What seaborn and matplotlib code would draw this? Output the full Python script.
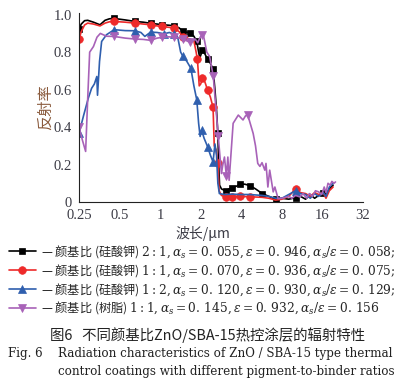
import numpy as np
import pandas as pd
import matplotlib
matplotlib.use("Agg")
import matplotlib.pyplot as plt
import seaborn as sns
from matplotlib.ticker import FixedLocator, FixedFormatter, NullFormatter

# ---------------- data ----------------
x_black = [0.25, 0.26, 0.275, 0.29, 0.32, 0.358, 0.39, 0.42, 0.454, 0.55, 0.65, 0.75, 0.85, 0.95, 1.04,
           1.15, 1.264, 1.38, 1.48, 1.58, 1.67, 1.78, 1.87, 1.93, 1.97, 2.06, 2.15, 2.25, 2.36, 2.47,
           2.55, 2.62, 2.68, 2.72, 2.76, 2.85, 3.06, 3.25, 3.44, 3.7, 3.94, 4.25, 4.62, 5.1, 5.72,
           6.4, 7.2, 8.0, 9.0, 10.1, 11.0, 12.0, 13.0, 14.0, 15.0, 16.2, 17.0, 18.0, 19.2]
y_black = [0.923, 0.95, 0.968, 0.97, 0.96, 0.946, 0.97, 0.978, 0.98, 0.972, 0.964, 0.96, 0.954, 0.95, 0.946,
           0.944, 0.941, 0.93, 0.911, 0.906, 0.902, 0.885, 0.857, 0.80, 0.77, 0.809, 0.79, 0.762, 0.74, 0.709,
           0.60, 0.49, 0.366, 0.20, 0.09, 0.07, 0.059, 0.07, 0.077, 0.085, 0.096, 0.095, 0.088, 0.07, 0.045,
           0.03, 0.014, 0.02, 0.015, 0.023, 0.03, 0.015, 0.04, 0.02, 0.035, 0.048, 0.04, 0.07, 0.09]
mk_black = [0.25, 0.454, 0.65, 0.85, 1.04, 1.264, 1.48, 1.67, 1.87, 2.06, 2.25, 2.47, 2.68,
            3.06, 3.44, 3.94, 4.62, 5.72, 7.2, 10.1, 16.2]

x_red = [0.25, 0.26, 0.275, 0.29, 0.32, 0.358, 0.39, 0.42, 0.454, 0.55, 0.65, 0.75, 0.85, 0.95, 1.04,
         1.15, 1.264, 1.38, 1.48, 1.58, 1.67, 1.78, 1.85, 1.89, 1.95, 2.0, 2.06, 2.15, 2.25, 2.36, 2.47,
         2.52, 2.6, 2.68, 2.74, 2.85, 3.06, 3.44, 3.94, 4.62, 5.72, 6.4, 7.2, 8.0, 9.0, 10.1, 11.0,
         12.0, 13.0, 14.0, 15.0, 16.2, 17.0, 18.0, 19.2]
y_red = [0.87, 0.91, 0.945, 0.955, 0.95, 0.94, 0.955, 0.962, 0.964, 0.96, 0.955, 0.95, 0.946, 0.94, 0.937,
         0.933, 0.929, 0.91, 0.88, 0.875, 0.87, 0.86, 0.80, 0.762, 0.62, 0.63, 0.66, 0.64, 0.598, 0.56, 0.505,
         0.30, 0.28, 0.21, 0.06, 0.035, 0.027, 0.028, 0.03, 0.028, 0.025, 0.02, 0.01, 0.015, 0.03, 0.07, 0.05,
         0.045, 0.03, 0.05, 0.04, 0.05, 0.02, 0.06, 0.08]
mk_red = [0.25, 0.454, 0.65, 0.85, 1.04, 1.264, 1.48, 1.89, 2.06, 2.25, 2.47, 2.68,
          3.06, 3.44, 3.94, 4.62, 10.1]

x_blue = [0.25, 0.27, 0.293, 0.31, 0.325, 0.339, 0.343, 0.355, 0.368, 0.40, 0.456, 0.55, 0.65, 0.72, 0.77,
          0.85, 0.95, 1.07, 1.17, 1.27, 1.35, 1.42, 1.47, 1.58, 1.69, 1.78, 1.87, 1.93, 1.98, 2.03, 2.12,
          2.25, 2.36, 2.47, 2.55, 2.62, 2.68, 2.75, 3.0, 3.44, 3.94, 4.62, 5.72, 6.4, 7.2, 8.0, 9.0, 10.1,
          11.0, 12.0, 13.0, 14.0, 15.0, 16.2, 17.0, 18.0, 19.2]
y_blue = [0.366, 0.46, 0.554, 0.607, 0.63, 0.67, 0.57, 0.75, 0.857, 0.893, 0.92, 0.915, 0.914, 0.905, 0.884,
          0.907, 0.905, 0.898, 0.905, 0.896, 0.88, 0.80, 0.78, 0.75, 0.714, 0.62, 0.545, 0.42, 0.35, 0.384, 0.34,
          0.295, 0.25, 0.214, 0.31, 0.25, 0.10, 0.045, 0.04, 0.042, 0.04, 0.04, 0.035, 0.03, 0.02, 0.02, 0.04, 0.06,
          0.045, 0.04, 0.02, 0.045, 0.03, 0.05, 0.03, 0.08, 0.10]
mk_blue = [0.25, 0.456, 0.65, 0.85, 1.07, 1.27, 1.47, 1.69, 1.87, 2.03, 2.25, 2.47, 10.1]

x_purple = [0.25, 0.265, 0.28, 0.29, 0.30, 0.32, 0.34, 0.36, 0.40, 0.454, 0.55, 0.65, 0.75, 0.85, 0.95,
            1.04, 1.15, 1.264, 1.38, 1.47, 1.58, 1.67, 1.75, 1.82, 1.9, 1.98, 2.05, 2.09, 2.15, 2.22,
            2.33, 2.48, 2.6, 2.7, 2.78, 2.85, 2.92, 3.0, 3.1, 3.18, 3.25, 3.35, 3.48, 3.8, 4.12, 4.3,
            4.47, 4.9, 5.1, 5.3, 5.5, 5.7, 5.98, 6.1, 6.3, 6.5, 6.9, 7.1, 7.5, 8.0, 9.0, 9.5, 10.1,
            10.9, 11.5, 12.2, 12.8, 13.5, 14.2, 15.0, 15.8, 16.5, 17.0, 17.6, 18.3, 18.8, 19.5, 20.0]
y_purple = [0.40, 0.33, 0.27, 0.55, 0.80, 0.83, 0.88, 0.90, 0.885, 0.884, 0.875, 0.87, 0.868, 0.863, 0.875,
            0.879, 0.882, 0.88, 0.875, 0.87, 0.86, 0.852, 0.86, 0.87, 0.85, 0.88, 0.89, 0.893, 0.85, 0.80,
            0.777, 0.67, 0.49, 0.35, 0.241, 0.152, 0.20, 0.24, 0.14, 0.24, 0.116, 0.25, 0.42, 0.464, 0.438, 0.46,
            0.464, 0.366, 0.30, 0.206, 0.19, 0.21, 0.17, 0.206, 0.08, 0.17, 0.054, 0.08, 0.018, 0.02, 0.03, 0.02, 0.035,
            0.027, 0.045, 0.02, 0.045, 0.03, 0.06, 0.054, 0.04, 0.08, 0.05, 0.10, 0.09, 0.11, 0.10, 0.107]
mk_purple = [0.25, 0.454, 0.65, 0.85, 1.04, 1.264, 1.47, 1.67, 2.05, 2.48, 2.7, 3.1, 4.47]

labels = [
    r"— 颜基比 (硅酸钾) $\mathrm{2{:}1,}\alpha_s\mathrm{{=}0.\,055,}\varepsilon\mathrm{{=}0.\,946,}\alpha_s/\varepsilon\mathrm{{=}0.\,058;}$",
    r"— 颜基比 (硅酸钾) $\mathrm{1{:}1,}\alpha_s\mathrm{{=}0.\,070,}\varepsilon\mathrm{{=}0.\,936,}\alpha_s/\varepsilon\mathrm{{=}0.\,075;}$",
    r"— 颜基比 (硅酸钾) $\mathrm{1{:}2,}\alpha_s\mathrm{{=}0.\,120,}\varepsilon\mathrm{{=}0.\,930,}\alpha_s/\varepsilon\mathrm{{=}0.\,129;}$",
    r"— 颜基比 (树脂) $\mathrm{1{:}1,}\alpha_s\mathrm{{=}0.\,145,}\varepsilon\mathrm{{=}0.\,932,}\alpha_s/\varepsilon\mathrm{{=}0.\,156}$",
]
x_ticks = [0.25, 0.5, 1, 2, 4, 8, 16, 32]
x_ticklabels = ["0.25", "0.5", "1", "2", "4", "8", "16", "32"]
y_ticks = [0, 0.2, 0.4, 0.6, 0.8, 1.0]
y_ticklabels = ["0", "0.2", "0.4", "0.6", "0.8", "1.0"]

# ---------------- style ----------------
sns.set_style("white")
plt.rcParams["font.family"] = ["Liberation Serif", "Noto Sans CJK SC"]
plt.rcParams["mathtext.fontset"] = "custom"
plt.rcParams["mathtext.rm"] = "DejaVu Serif"
plt.rcParams["mathtext.it"] = "DejaVu Serif:italic"

fig = plt.figure(figsize=(4.04, 3.81), dpi=100)
ax = fig.add_axes([79 / 404, 1 - 202 / 381, (363 - 79) / 404, (202 - 13) / 381])

series = [
    (x_black, y_black, mk_black, "#000000", "s", 5.0),
    (x_red, y_red, mk_red, "#ee2a2a", "o", 5.5),
    (x_blue, y_blue, mk_blue, "#2f5fae", "^", 5.5),
    (x_purple, y_purple, mk_purple, "#a862b8", "v", 5.5),
]
for (xs, ys, mks, col, m, ms), lab in zip(series, labels):
    idx = [int(np.argmin(np.abs(np.array(xs) - v))) for v in mks]
    sns.lineplot(x=xs, y=ys, ax=ax, color=col, lw=1.2, marker=m, markersize=ms,
                 markevery=idx, mec=col, mew=0.5, estimator=None, sort=False, label=lab,
                 legend=False)

ax.set_xscale("log", base=2)
ax.set_xlim(0.25, 32)
ax.set_ylim(0, 1.009)
ax.xaxis.set_major_locator(FixedLocator(x_ticks))
ax.xaxis.set_major_formatter(FixedFormatter(x_ticklabels))
ax.xaxis.set_minor_locator(FixedLocator([v * 2 ** 0.5 for v in x_ticks[:-1]]))
ax.xaxis.set_minor_formatter(NullFormatter())
ax.set_yticks(y_ticks)
ax.set_yticklabels(y_ticklabels)
ax.set_yticks(np.arange(0.1, 1.0, 0.2), minor=True)
ax.tick_params(axis="both", which="major", direction="in", length=4, width=0.8,
               labelsize=10.5, labelcolor="#3b3b45", color="#222222")
ax.tick_params(axis="both", which="minor", direction="in", length=2.5, width=0.8, color="#222222")
ax.tick_params(axis="x", pad=5)
ax.tick_params(axis="y", pad=5)
for s in ["top", "right"]:
    ax.spines[s].set_visible(False)
for s in ["left", "bottom"]:
    ax.spines[s].set_linewidth(0.8)
    ax.spines[s].set_color("#222222")

ax.set_xlabel("波长/μm", fontsize=10, color="#3b3b45", family=["Noto Sans CJK SC"], labelpad=3)
ax.xaxis.label.set_x((203 - 79) / 284)
ax.set_ylabel("反射率", fontsize=11, color="#8a5a3c", family=["Noto Sans CJK SC"], labelpad=0)

handles = ax.get_lines()[:4]
fig.legend(handles, labels, loc="upper left", bbox_to_anchor=(9 / 404, 1 - 243 / 381),
           frameon=False, handlelength=2.2, handletextpad=0.4,
           labelspacing=0.16, borderaxespad=0, borderpad=0, numpoints=1,
           prop={"family": ["Noto Sans CJK SC"], "size": 8.8})

fig.text(207 / 404, 1 - 335 / 381, "图6   不同颜基比ZnO/SBA-15热控涂层的辐射特性",
         ha="center", va="center", fontsize=10.4, color="#222222",
         family=["Noto Sans CJK SC"])
fig.text(8 / 404, 1 - 354 / 381, "Fig. 6",
         ha="left", va="center", fontsize=8.6, color="#222222", family=["DejaVu Serif"])
fig.text(58 / 404, 1 - 354 / 381, "Radiation characteristics of ZnO / SBA-15 type thermal",
         ha="left", va="center", fontsize=8.6, color="#222222", family=["DejaVu Serif"])
fig.text(58 / 404, 1 - 372 / 381, "control coatings with different pigment-to-binder ratios",
         ha="left", va="center", fontsize=8.55, color="#222222", family=["DejaVu Serif"])

fig.savefig("out.png", dpi=100)
